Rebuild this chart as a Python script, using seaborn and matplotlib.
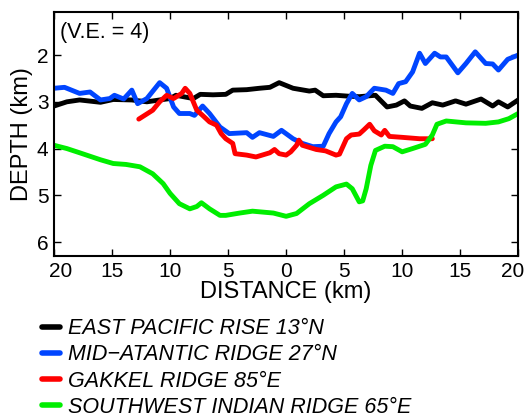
import matplotlib
matplotlib.use("Agg")
import matplotlib.pyplot as plt
import matplotlib.transforms as mtransforms
import seaborn as sns
import pandas as pd
import numpy as np

# ---- data (distance km, depth km) ----
epr_x = [-20, -18.9, -17.8, -16, -14.9, -13.3, -12, -10.9, -10, -9.5, -8, -7.4, -6.3, -5.2, -4.6, -3.4, -2.3,
         -1.4, -0.6, 0.6, 2.0, 2.5, 3.2, 4.3, 5.4, 6.3, 7.7, 8.7, 9.5, 10.2, 10.7, 11.7, 12.6, 13.5, 14.6, 15.5,
         16.8, 17.8, 18.3, 19.1, 20]
epr_d = [3.09, 3.0, 2.96, 3.01, 2.95, 2.96, 3.0, 2.96, 2.93, 2.86, 2.93, 2.84, 2.85, 2.84, 2.75, 2.74, 2.71,
         2.69, 2.59, 2.71, 2.77, 2.75, 2.87, 2.86, 2.88, 2.89, 2.86, 3.11, 3.07, 2.98, 3.09, 3.14, 3.02, 3.07,
         2.98, 3.05, 2.94, 3.09, 3.0, 3.11, 2.96]

mar_x = [-20, -19.1, -17.8, -16.9, -16, -15.2, -14.8, -14.0, -13.3, -12.8, -12.0, -10.9, -10.3, -9.7, -9.2,
         -8.3, -7.9, -7.2, -6.6, -5.7, -4.9, -3.4, -2.9, -2.3, -1.1, -0.4, 0.6, 1.4, 2.3, 3.2, 3.7, 4.3, 4.7,
         5.2, 5.7, 6.3, 6.9, 7.6, 8.6, 9.2, 9.7, 10.3, 10.9, 11.5, 12.0, 12.8, 13.3, 13.8, 14.8, 15.5, 16.3,
         17.2, 17.8, 18.3, 19.1, 20]
mar_d = [2.71, 2.69, 2.82, 2.79, 2.96, 2.93, 2.86, 2.94, 2.75, 3.04, 2.93, 2.59, 2.71, 3.11, 3.25,
         3.25, 3.29, 3.09, 3.25, 3.54, 3.68, 3.66, 3.76, 3.66, 3.74, 3.61, 3.79, 3.89, 3.96, 3.95, 3.68, 3.43, 3.32,
         3.04, 2.82, 2.96, 2.89, 2.71, 2.75, 2.82, 2.61, 2.57, 2.36, 1.96, 2.18, 1.96, 2.04, 2.04, 2.38, 2.18, 1.93,
         2.18, 2.19, 2.32, 2.09, 2.0]

gak_x = [-12.7, -11.5, -10.9, -10.3, -9.7, -9.0, -8.7, -8.3, -7.7, -7.2, -6.6, -6.0, -5.6, -5.2, -4.6, -4.4,
         -3.4, -2.6, -1.4, -1.0, -0.6, 0.0, 0.4, 0.9, 1.1, 1.4, 2.6, 3.4, 4.3, 4.6, 5.2, 5.6, 6.3, 6.7, 7.2,
         7.6, 8.2, 8.5, 8.9, 10.0, 11.5, 12.6]
gak_d = [3.37, 3.18, 3.0, 2.86, 2.93, 2.82, 2.71, 2.82, 3.18, 3.29, 3.43, 3.5, 3.68, 3.79, 3.89, 4.11,
         4.14, 4.18, 4.09, 4.02, 4.11, 4.14, 4.07, 3.93, 3.82, 3.93, 4.02, 4.05, 4.14, 4.12, 3.79, 3.71, 3.69, 3.6, 3.48,
         3.62, 3.71, 3.61, 3.74, 3.76, 3.79, 3.79]

swir_x = [-20, -18.9, -17.8, -16, -14.9, -13.8, -12.6, -11.5, -10.6, -10, -9.2, -8.3, -7.7, -7.3, -6.6, -5.7,
          -5.2, -4.0, -2.9, -1.1, 0.0, 0.9, 2.0, 3.2, 4.3, 5.2, 5.7, 6.3, 6.6, 6.9, 7.3, 7.7, 8.5, 9.2, 10.0,
          10.9, 12.0, 12.6, 13.0, 13.8, 15.5, 17.2, 18.3, 19.2, 20]
swir_d = [3.93, 4.0, 4.09, 4.24, 4.32, 4.34, 4.39, 4.54, 4.75, 4.96, 5.18, 5.29, 5.24, 5.16, 5.29, 5.43,
          5.43, 5.38, 5.34, 5.38, 5.45, 5.39, 5.18, 5.0, 4.82, 4.76, 4.86, 5.14, 5.12, 4.86, 4.36, 4.04, 3.95, 3.96, 4.07,
          4.0, 3.91, 3.71, 3.48, 3.41, 3.45, 3.46, 3.43, 3.36, 3.25]

labels = ["EAST PACIFIC RISE 13°N", "MID\u2212ATANTIC RIDGE 27°N", "GAKKEL RIDGE 85°E",
          "SOUTHWEST INDIAN RIDGE 65°E"]
colors = ["#000000", "#0045FF", "#FF0000", "#00EE00"]

xticks = [-20, -15, -10, -5, 0, 5, 10, 15, 20]
xticklabels = ["20", "15", "10", "5", "0", "5", "10", "15", "20"]
yticks = [2, 3, 4, 5, 6]

frames = []
for name, xs, ds in zip(labels, [epr_x, mar_x, gak_x, swir_x], [epr_d, mar_d, gak_d, swir_d]):
    frames.append(pd.DataFrame({"x": xs, "depth": ds, "ridge": name, "order": np.arange(len(xs))}))
df = pd.concat(frames, ignore_index=True)

sns.set_style("ticks")
plt.rcParams["font.family"] = ["Liberation Sans", "DejaVu Sans"]
plt.rcParams.update({"text.color": "black", "axes.labelcolor": "black", "xtick.color": "black",
                     "ytick.color": "black", "axes.edgecolor": "black"})

fig = plt.figure(figsize=(5.25, 4.17), dpi=100)
ax = fig.add_axes([0.103, 0.386, 0.884, 0.585])

sns.lineplot(data=df, x="x", y="depth", hue="ridge", hue_order=labels, palette=colors,
             estimator=None, sort=False, linewidth=3.5, ax=ax, legend=False)

ax.set_xlim(-20, 20)
ax.set_ylim(6.3, 1.08)
ax.set_xticks(xticks)
ax.set_xticklabels(xticklabels)
ax.set_yticks(yticks)
ax.tick_params(direction="in", top=True, right=True, length=5, width=1,
               labelsize=15, labeltop=False, labelright=False, pad=4, colors="black")
for s in ax.spines.values():
    s.set_linewidth(1.5)
    s.set_color("black")

# nudge the end tick labels inward like the reference
xl = ax.get_xticklabels()
xl[0].set_transform(xl[0].get_transform() + mtransforms.ScaledTranslation(7 / 100, 0, fig.dpi_scale_trans))
xl[-1].set_transform(xl[-1].get_transform() + mtransforms.ScaledTranslation(-6 / 100, 0, fig.dpi_scale_trans))

ax.set_xlabel("DISTANCE (km)", fontsize=17, labelpad=0, color="black")
ax.set_ylabel("DEPTH (km)", fontsize=17, labelpad=3, color="black")
ax.text(0.013, 0.96, "(V.E. = 4)", transform=ax.transAxes, fontsize=15.5, va="top", ha="left", color="black")

handles = ax.get_lines()[:4]
leg = fig.legend(handles, labels, loc="upper left", bbox_to_anchor=(0.08, 0.237), frameon=False,
                 prop={"style": "italic", "size": 15.5}, handlelength=0.84, handletextpad=0.37,
                 labelspacing=0.24, borderpad=0, borderaxespad=0, labelcolor="black")
for h in leg.get_lines():
    h.set_linewidth(4)

fig.savefig("out.png", dpi=100)
